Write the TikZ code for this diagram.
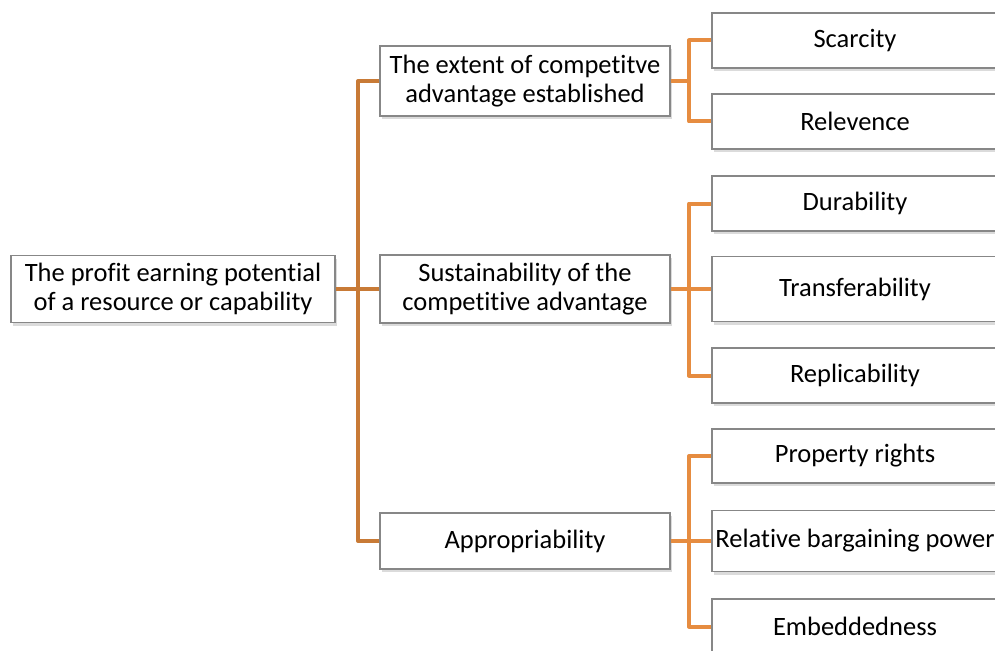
\documentclass[tikz,border=0pt]{standalone}
\usepackage{fontspec}
\setmainfont{Carlito}[Ligatures=NoCommon]
\usetikzlibrary{shadows,calc}
\definecolor{trunkc}{RGB}{200,122,54}
\definecolor{branchc}{RGB}{230,140,64}
\definecolor{boxline}{RGB}{135,135,135}
\tikzset{
  box/.style={draw=boxline, line width=1.2pt, fill=white, inner sep=0pt, align=center,
    font=\fontsize{26.5}{29.5}\selectfont,
    drop shadow={shadow xshift=2pt, shadow yshift=-3pt, opacity=0.35, fill=gray!80}},
  trunk/.style={draw=trunkc, line width=4pt, line join=round},
  branch/.style={draw=branchc, line width=4pt, line join=round},
}
\begin{document}
\begin{tikzpicture}[x=1pt,y=-1pt]
\useasboundingbox (0,0) rectangle (995,650);
\clip (0,0) rectangle (995,650);
% root
\node[box, minimum width=324pt, minimum height=67pt] (root) at (173,289) {The profit earning potential\\of a resource or capability};
% middle
\node[box, minimum width=290pt, minimum height=70pt] (b1) at (525,81) {The extent of competitve\\advantage established};
\node[box, minimum width=290pt, minimum height=68pt] (b2) at (525,289) {Sustainability of the\\competitive advantage};
\node[box, minimum width=290pt, minimum height=56pt] (b3) at (525,541) {Appropriability};
% right
\node[box, minimum width=286pt, minimum height=55pt] (s1) at (855,40.5) {Scarcity};
\node[box, minimum width=286pt, minimum height=55pt] (s2) at (855,121.5) {Relevence};
\node[box, minimum width=286pt, minimum height=55pt] (d1) at (855,203.5) {Durability};
\node[box, minimum width=286pt, minimum height=65pt] (d2) at (855,289) {Transferability};
\node[box, minimum width=286pt, minimum height=55pt] (d3) at (855,375.5) {Replicability};
\node[box, minimum width=286pt, minimum height=54pt] (a1) at (855,456) {Property rights};
\node[box, minimum width=286pt, minimum height=61pt] (a2) at (855,541) {\makebox[0pt][c]{Relative bargaining power}};
\node[box, minimum width=286pt, minimum height=55pt] (a3) at (855,626.5) {Embeddedness};
% connectors
\coordinate (t) at (358,0);
\coordinate (r) at (689,0);
\draw[trunk] (b1.west) -- (b1.west -| t) -- (b3.west -| t) -- (b3.west);
\draw[trunk] (root.east) -- (b2.west);
\draw[branch] (s1.west) -- (s1.west -| r) -- (s2.west -| r) -- (s2.west);
\draw[branch] (b1.east) -- (b1.east -| r);
\draw[branch] (d1.west) -- (d1.west -| r) -- (d3.west -| r) -- (d3.west);
\draw[branch] (b2.east) -- (d2.west);
\draw[branch] (a1.west) -- (a1.west -| r) -- (a3.west -| r) -- (a3.west);
\draw[branch] (b3.east) -- (a2.west);
\end{tikzpicture}
\end{document}
